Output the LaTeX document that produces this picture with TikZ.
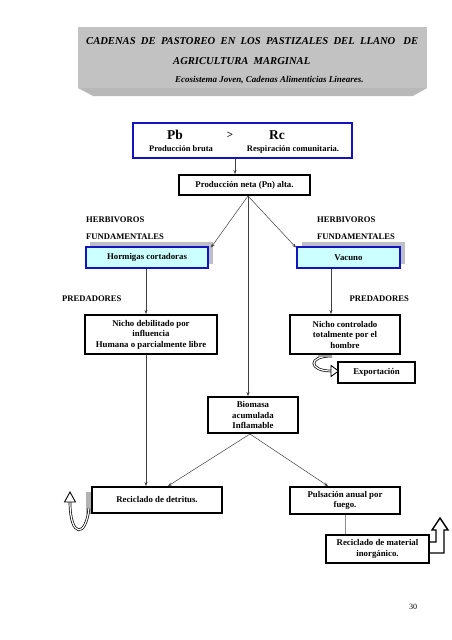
\documentclass[tikz,border=0pt]{standalone}
\usepackage{fontspec}
\setmainfont{Liberation Serif}
\usetikzlibrary{arrows.meta,calc}
\definecolor{boxblue}{RGB}{20,20,190}
\definecolor{cyanfill}{RGB}{204,255,255}
\definecolor{shadowgray}{RGB}{190,190,200}
\tikzset{
  bx/.style={draw, line width=2pt, fill=white, inner sep=0pt, align=center,
    font=\bfseries\fontsize{8.8}{10.5}\selectfont},
  bluebx/.style={bx, draw=boxblue, fill=cyanfill},
  lbl/.style={inner sep=0pt, font=\bfseries\fontsize{8.6}{9}\selectfont},
  conn/.style={line width=0.5pt, black!75, -{Stealth[length=4pt,width=3pt]}},
  hollow/.style={line width=2.6pt, black},
  hollowin/.style={line width=1.2pt, white},
}
\begin{document}
\begin{tikzpicture}[x=1pt,y=-1pt]
\useasboundingbox (0,0) rectangle (452,640);
\fill[white] (0,0) rectangle (452,640);
% title banner
\fill[black!28] (78,88) -- (427,88) -- (413,96) -- (93,96) -- cycle;
\fill[black!24] (78,27) rectangle (427,88);
\node[anchor=west, inner sep=0pt, font=\bfseries\itshape\fontsize{10.6}{12}\selectfont] (t1) at (86,41) {CADENAS\ \ DE\ \ PASTOREO\ \ EN\ \ LOS\ \ PASTIZALES\ \ DEL\ \ LLANO\ \ \ DE};
\node[anchor=west, inner sep=0pt, font=\bfseries\itshape\fontsize{10.6}{12}\selectfont] (t2) at (173,61) {AGRICULTURA\ \ MARGINAL};
\node[anchor=west, inner sep=0pt, font=\bfseries\itshape\fontsize{9}{12}\selectfont] (t3) at (175,80) {Ecosistema Joven, Cadenas Alimenticias Lineares.};
% Pb box
\node[draw=boxblue, line width=2.4pt, fill=white, minimum width=219pt, minimum height=35pt, inner sep=0pt] (pb) at (242.5,140.5) {};
\node[inner sep=0pt, font=\bfseries\fontsize{13.5}{14}\selectfont] (pbt) at (175,135) {Pb};
\node[inner sep=0pt, font=\bfseries\fontsize{11}{14}\selectfont] (gt) at (230,135) {>};
\node[inner sep=0pt, font=\bfseries\fontsize{13.5}{14}\selectfont] (rct) at (277,135) {Rc};
\node[lbl, font=\bfseries\fontsize{8.5}{9}\selectfont] (pbl) at (181,149) {Producción bruta};
\node[lbl, font=\bfseries\fontsize{8.5}{9}\selectfont] (rcl) at (293,149) {Respiración comunitaria.};
% Produccion neta
\node[bx, minimum width=131pt, minimum height=20pt] (pn) at (244.5,185) {Producción neta (Pn) alta.};
\coordinate (pnb) at ([xshift=3.5pt]pn.south);
% herbivoros
\node[lbl, anchor=west] (h1) at (86,220) {HERBIVOROS};
\node[lbl, anchor=west] (h2) at (86,237) {FUNDAMENTALES};
\node[lbl, anchor=west] (h3) at (317,220) {HERBIVOROS};
\node[lbl, anchor=west] (h4) at (317,237) {FUNDAMENTALES};
\fill[shadowgray] (90,242) rectangle (213,264);
\fill[shadowgray] (302,242) rectangle (405,264);
\node[bluebx, minimum width=122pt, minimum height=21pt] (horm) at (147,257.5) {Hormigas cortadoras};
\node[bluebx, minimum width=103pt, minimum height=21pt] (vac) at (348.5,257.5) {Vacuno};
% predadores
\node[lbl, anchor=west] (p1) at (62,299) {PREDADORES};
\node[lbl, anchor=east] (p2) at (409,299) {PREDADORES};
% nichos
\node[bx, minimum width=132pt, minimum height=39pt] (nl) at (151,334.5) {Nicho debilitado por\\influencia\\Humana o parcialmente libre};
\node[bx, minimum width=110pt, minimum height=39pt] (nr) at (345,334.5) {Nicho controlado\\totalmente por el\\hombre};
\node[bx, minimum width=77pt, minimum height=21pt] (exp) at (376.5,372.5) {Exportación};
% biomasa
\node[bx, minimum width=90pt, minimum height=36pt] (bio) at (253,415) {Biomasa\\acumulada\\Inflamable};
% bottom row
\fill[black!30] (86,492) rectangle (93,514);
\node[bx, minimum width=130pt, minimum height=26pt] (rd) at (157,500) {Reciclado de detritus.};
\node[bx, minimum width=110pt, minimum height=27pt] (pf) at (345,500.5) {Pulsación anual por\\fuego.};
\node[bx, minimum width=103pt, minimum height=28pt] (rm) at (377.5,549) {Reciclado de material\\inorgánico.};
% page number
\node[inner sep=0pt, font=\fontsize{8}{9}\selectfont] (pg) at (413,607) {30};
% connectors
\draw[conn] ([xshift=-7.5pt]pb.south) -- ([xshift=-7.5pt]pb.south |- pn.north);
\draw[conn] (pnb) -- ([shift={(2pt,-1.5pt)}]horm.north east);
\draw[conn] (pnb) -- ([shift={(0pt,-1.5pt)}]vac.north west);
\draw[conn] (pnb) -- (pnb |- bio.north);
\draw[conn] ([xshift=-1pt]horm.south) -- ([xshift=-1pt]horm.south |- nl.north);
\draw[conn] ([xshift=-17.5pt]vac.south) -- ([xshift=-17.5pt]vac.south |- nr.north);
\draw[conn] ([xshift=-5pt]nl.south) -- ([xshift=-5pt]nl.south |- rd.north);
\draw[conn] ([xshift=-3pt]bio.south) -- ([xshift=11pt]rd.north);
\draw[conn] ([xshift=-3pt]bio.south) -- ([xshift=-17pt]pf.north);
\draw[line width=0.6pt, black!45] (pf.south) -- (pf.south |- rm.north);
% hollow curved arrow: export
\coordinate (ea) at (332,356);
\coordinate (eb) at (331,371);
\draw[hollow] (ea) .. controls (307,356) and (309,371) .. (eb);
\draw[hollowin] (ea) .. controls (307,356) and (309,371) .. (eb);
\draw[line width=1.4pt, black!35] (330,356) -- (318,356);
\filldraw[fill=white, draw=black, line width=0.9pt] (331,365.5) -- (338.5,371) -- (331,376.5) -- cycle;
% hollow curved arrow: left
\coordinate (la) at (89,508);
\coordinate (lb) at (70,502);
\draw[hollow] (la) .. controls (86,538) and (70,538) .. (lb);
\draw[hollowin] (la) .. controls (86,538) and (70,538) .. (lb);
\filldraw[fill=white, draw=black, line width=0.9pt] (64.5,502) -- (70,492) -- (75.5,502) -- cycle;
% elbow arrow right
\filldraw[fill=white, draw=black, line width=1.4pt] (rm.east |- 0,553) -- (444,553) -- (444,530) -- (448,530) -- (440,518) -- (432,530) -- (436,530) -- (436,542) -- (rm.east |- 0,542);
\end{tikzpicture}
\end{document}
